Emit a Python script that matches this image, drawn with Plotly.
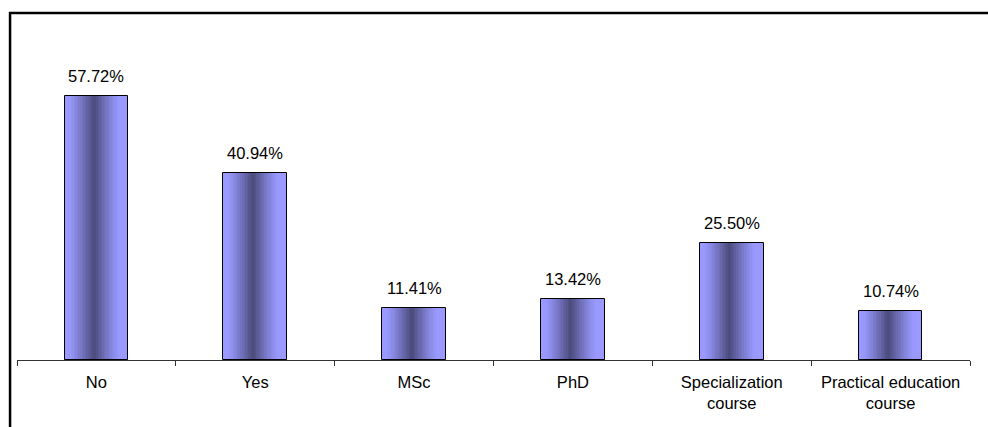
import plotly.graph_objects as go

# Data
categories = ["No", "Yes", "MSc", "PhD", "Specialization<br>course", "Practical education<br>course"]
values = [57.72, 40.94, 11.41, 13.42, 25.50, 10.74]

BAR_W = 0.4
STRIPS = 40
LIGHT = (153, 153, 255)
DARK = (74, 74, 122)
FONT = "Liberation Sans, Arial, sans-serif"


def strip_color(u):
    # cylinder-like shading: light at edges, dark near the middle
    d = abs(u - 0.47) / 0.40
    k = max(0.0, 1.0 - d) ** 1.2
    r, g, b = (round(LIGHT[i] + (DARK[i] - LIGHT[i]) * k) for i in range(3))
    return f"rgb({r},{g},{b})"


fig = go.Figure()

# shaded bar body built from thin vertical strips
sw = BAR_W / STRIPS
for i in range(STRIPS):
    u = (i + 0.5) / STRIPS
    fig.add_trace(go.Bar(
        x=categories, y=values,
        width=sw * 1.08, offset=-BAR_W / 2 + i * sw,
        marker=dict(color=strip_color(u), line=dict(width=0)),
        hoverinfo="skip", showlegend=False,
    ))

# outline
fig.add_trace(go.Bar(
    x=categories, y=values,
    width=BAR_W, offset=-BAR_W / 2,
    marker=dict(color="rgba(0,0,0,0)", line=dict(color="black", width=1)),
    showlegend=False,
))

# value labels
for c, v in zip(categories, values):
    fig.add_annotation(
        x=c, y=v, text=f"{v:.2f}%", showarrow=False,
        yanchor="bottom", yshift=9,
        font=dict(family=FONT, size=16.5, color="black"),
    )

fig.update_layout(
    width=988, height=427,
    margin=dict(l=17, r=18, t=40, b=67),
    barmode="overlay", bargap=0,
    plot_bgcolor="white", paper_bgcolor="white",
    font=dict(family=FONT, size=16.5, color="black"),
    xaxis=dict(
        showline=True, linecolor="#333333", linewidth=1,
        ticks="outside", tickson="boundaries", ticklen=5,
        tickcolor="#333333", tickwidth=1,
        ticklabelstandoff=7,
        showgrid=False, zeroline=False,
        tickfont=dict(family=FONT, size=16.5, color="black"),
    ),
    yaxis=dict(range=[0, 70], visible=False, showgrid=False, zeroline=False),
    shapes=[dict(
        type="rect", xref="paper", yref="paper",
        x0=-0.0073, x1=1.2, y0=-0.5, y1=1.084,
        line=dict(color="black", width=2.5),
    )],
)

fig.write_html("out.html")
